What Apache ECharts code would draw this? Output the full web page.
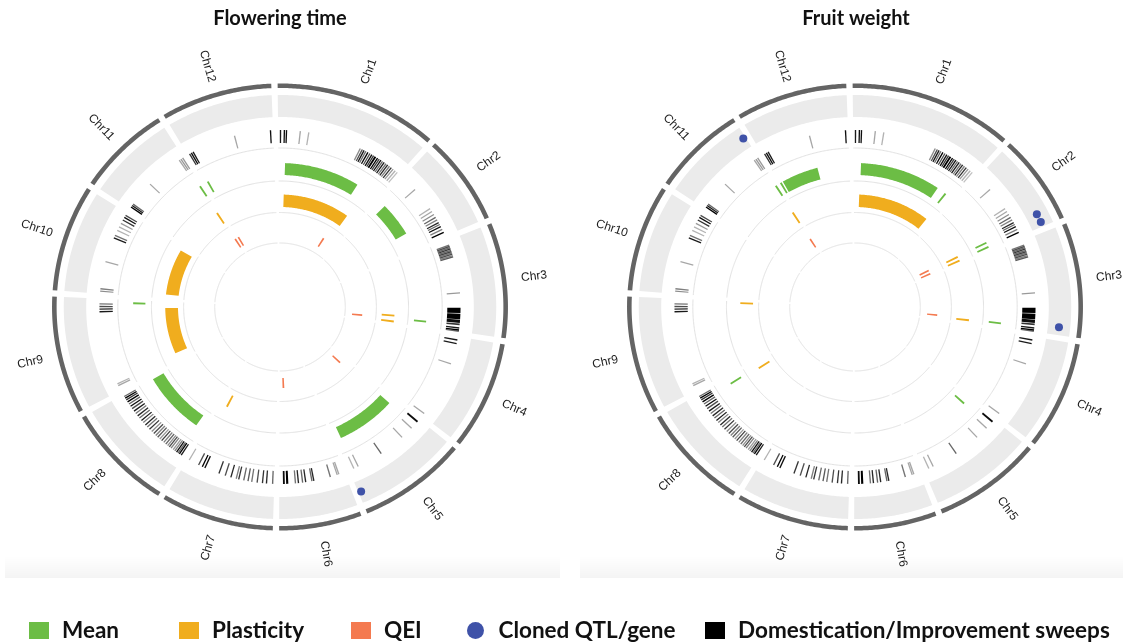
<!DOCTYPE html>
<html>
<head>
<meta charset="utf-8">
<script src="https://cdn.jsdelivr.net/npm/echarts@6/dist/echarts.min.js"></script>
<style>
  html, body { margin: 0; padding: 0; background: #ffffff; }
  #chart { width: 1123px; height: 642px; }
</style>
</head>
<body>
<div id="chart"></div>
<script>
// ---- Genome ----
const CHROMOSOMES = ['Chr1', 'Chr2', 'Chr3', 'Chr4', 'Chr5', 'Chr6', 'Chr7', 'Chr8', 'Chr9', 'Chr10', 'Chr11', 'Chr12'];
const CHR_LENGTH_MB = [98.54, 55.34, 70.79, 66.47, 65.88, 49.75, 68.05, 65.87, 72.48, 65.53, 56.30, 67.15];

const PANEL_TITLES = ['Flowering time', 'Fruit weight'];
const LEGEND_NAMES = ['Mean', 'Plasticity', 'QEI', 'Cloned QTL/gene', 'Domestication/Improvement sweeps'];

// ---- Flowering time: [chromosome, start Mb, end Mb] ----
const ftMean = [[1, 6.1, 76.3], [2, 6.2, 38.7], [3, 65.2, 65.9], [5, 5.6, 61.2], [8, 5.6, 64.9], [9, 69.4, 69.9], [11, 54.2, 55.2], [12, 2.6, 3.4]];
const ftPlasticity = [[1, 5.8, 85.7], [3, 61.8, 62.5], [3, 68.4, 70.0], [7, 60.2, 61.0], [9, 8.9, 64.9], [10, 4.9, 60.9], [11, 53.6, 54.4]];
const ftQEI = [[1, 76.0, 77.0], [3, 65.2, 65.9], [5, 8.8, 9.6], [6, 43.2, 44.0], [11, 54.8, 55.4], [12, 0.7, 1.3]];
const ftCloned = [[5, 64.0]];

// ---- Fruit weight ----
const fwMean = [[1, 7.0, 82.1], [1, 90.5, 91.3], [2, 48.2, 48.9], [2, 52.6, 53.3], [3, 66.5, 67.8], [5, 5.6, 6.4], [8, 59.6, 60.4], [11, 55.3, 55.9], [12, 0.5, 1.2], [12, 3.0, 37.4]];
const fwPlasticity = [[1, 6.4, 92.0], [2, 48.3, 49.1], [2, 53.2, 54.0], [3, 67.0, 68.6], [8, 57.5, 58.7], [9, 70.4, 71.0], [11, 54.4, 55.6]];
const fwQEI = [[2, 47.4, 48.2], [2, 53.4, 54.2], [3, 65.0, 65.8], [11, 54.6, 55.3]];
const fwCloned = [[2, 46.2], [2, 52.1], [3, 65.5], [11, 54.7]];

// ---- Domestication / improvement sweeps: [chromosome, start Mb, end Mb, intensity] ----
const sweeps = [
  [1, 1.5, 2.1, .9], [1, 4.2, 5.2, .95], [1, 5.8, 6.8, .95], [1, 16.4, 16.9, .35], [1, 22.8, 23.3, .3],
  [1, 63.3, 63.8, .45], [1, 65, 65.5, .7], [1, 66.4, 67.1, .9], [1, 68, 68.5, .6], [1, 69.6, 70.4, 1],
  [1, 71.5, 72, .7], [1, 73, 73.8, .95], [1, 74.6, 75.2, .8], [1, 75.8, 77.2, 1], [1, 78, 78.8, 1],
  [1, 79.6, 80.1, .75], [1, 81, 81.8, .95], [1, 82.6, 83.1, .6], [1, 84, 84.8, .9], [1, 85.8, 86.3, .55],
  [1, 87.2, 88, .85], [1, 89, 89.5, .5], [1, 90.6, 91.4, .8], [1, 92.5, 93, .4], [1, 94.5, 95, .3], [1, 96.5, 97, .25],
  [2, 12.8, 13.3, .35], [2, 31.2, 31.7, .3], [2, 33.8, 34.3, .35], [2, 36.5, 37, .45], [2, 39, 39.6, .6],
  [2, 41.3, 41.8, .5], [2, 43.5, 44.3, .85], [2, 45.3, 45.8, .6], [2, 46.8, 47.8, .95], [2, 49.5, 50, .5], [2, 51.8, 52.8, 1],
  [3, 3.4, 3.9, .55], [3, 4.5, 5, .7], [3, 5.5, 6, .6], [3, 6.5, 7.1, .8], [3, 7.6, 8.1, .6], [3, 8.6, 9.2, .75],
  [3, 9.7, 10.2, .55], [3, 10.7, 11.3, .7], [3, 11.8, 12.3, .5], [3, 12.8, 13.4, .65], [3, 40.8, 41.3, .4],
  [3, 52.4, 56.5, 1], [3, 56.9, 61.2, 1], [3, 61.6, 64, .95], [3, 64.5, 65.8, .8], [3, 67.6, 68.2, .9],
  [3, 69, 69.8, 1], [3, 70.2, 70.6, .6],
  [4, 2.2, 3, .9], [4, 5, 5.8, .9], [4, 21.2, 21.7, .35], [4, 64.1, 64.6, .35],
  [5, 1.4, 2.8, .95], [5, 8.5, 9, .35], [5, 18.5, 19, .35], [5, 38.3, 38.9, .6], [5, 58.2, 58.7, .35], [5, 61.8, 62.3, .3],
  [6, 4.2, 4.7, .35], [6, 5.5, 6, .35], [6, 10.8, 11.4, .55], [6, 23.4, 24.2, .85], [6, 25, 25.5, .6],
  [6, 29.6, 30.3, .85], [6, 32, 32.5, .6], [6, 35, 35.8, .85], [6, 37.4, 37.9, .55], [6, 43, 44.6, 1], [6, 45.6, 47, .95],
  [7, 1, 1.5, .6], [7, 5.5, 6.2, .85], [7, 8.5, 9.2, .8], [7, 12.5, 13.2, .7], [7, 16.6, 17.3, .55],
  [7, 19.5, 20, .65], [7, 22.7, 23.3, .6], [7, 26.5, 27.2, .8], [7, 28.5, 29, .5], [7, 32.5, 33.3, .85],
  [7, 37, 37.6, .7], [7, 41.9, 42.6, .8], [7, 53.2, 54, .95], [7, 55.3, 56.1, 1], [7, 58.5, 59.1, .7], [7, 66.5, 67, .3],
  [8, 1.5, 2.5, .9], [8, 3.2, 4, 1], [8, 4.6, 5.1, .6], [8, 5.8, 6.6, .95], [8, 7.5, 8, .5], [8, 9, 9.5, .4],
  [8, 11, 11.5, .5], [8, 12.6, 13.2, .7], [8, 14.2, 14.7, .45], [8, 16, 16.6, .6], [8, 18, 18.5, .5],
  [8, 20, 20.6, .75], [8, 22, 22.4, .4], [8, 24, 24.6, .65], [8, 26, 26.5, .5], [8, 28, 28.6, .7],
  [8, 30.2, 30.7, .45], [8, 32.5, 33.2, .8], [8, 35, 35.5, .55], [8, 37, 37.8, .85], [8, 39.5, 40, .5],
  [8, 41.5, 42.3, .9], [8, 44, 44.5, .6], [8, 46, 46.8, .85], [8, 48.5, 49, .55], [8, 50.5, 51.3, .9],
  [8, 53, 53.6, .7], [8, 55, 55.8, .95], [8, 57.2, 57.8, .6], [8, 59, 60, 1], [8, 61, 61.6, .8],
  [8, 62.3, 63.3, 1], [8, 64, 64.5, .6],
  [9, 3.8, 4.3, .35], [9, 5.2, 5.7, .3], [9, 62.2, 62.8, .9], [9, 64.2, 64.8, .85], [9, 66.2, 66.8, .7], [9, 68.2, 68.7, .55],
  [10, 1.7, 2.3, .45], [10, 3.5, 4.1, .5], [10, 24.5, 25, .35], [10, 43.6, 44.4, .9], [10, 45.8, 46.4, .55],
  [10, 50, 50.5, .3], [10, 53, 53.5, .3], [10, 56, 56.5, .4], [10, 58.8, 59.5, .8], [10, 61, 61.8, .95], [10, 63, 63.5, .7],
  [11, 1, 2, 1], [11, 2.6, 3.2, .9], [11, 4, 4.4, .6], [11, 23.8, 24.3, .35], [11, 52.3, 52.8, .35],
  [11, 53.8, 54.3, .4], [11, 55.3, 55.8, .4],
  [12, 1.3, 1.9, .8], [12, 2.7, 3.5, .95], [12, 4.3, 4.9, .9], [12, 37.7, 38.2, .35], [12, 64.8, 65.6, .95]
];

const PANELS = [
  { mean: ftMean, plasticity: ftPlasticity, qei: ftQEI, cloned: ftCloned },
  { mean: fwMean, plasticity: fwPlasticity, qei: fwQEI, cloned: fwCloned }
];

// ---- Circular layout ----
const COLORS = { mean: '#6cbd45', plasticity: '#f0ad1e', qei: '#f47a50', cloned: '#3f52a8', sweep: '#000000',
                 band: '#ebebeb', outline: '#646464', ring: '#e2e2e2', label: '#1c1c1c' };
const START_DEG = -0.6;
const GAP_DEG = 1.6;
const TRACK_R = { outline: [219, 223.5], band: [190, 212], sweeps: [164, 177], mean: [132, 144],
                  plasticity: [100, 112.5], qei: [71, 81], cloned: 201, label: 251 };
const RING_R = [64, 94.5, 126, 159];
const ASPECT = 1.02;  // horizontal stretch of the wheels
const HALF = 240;

const totalMb = CHR_LENGTH_MB.reduce((a, b) => a + b, 0);
const DEG_PER_MB = (360 - GAP_DEG * CHROMOSOMES.length) / totalMb;
const CHR_START_DEG = [];
(function () {
  let a = START_DEG;
  CHR_LENGTH_MB.forEach(len => { CHR_START_DEG.push(a); a += len * DEG_PER_MB + GAP_DEG; });
})();
const toDeg = (chr, mb) => CHR_START_DEG[chr - 1] + mb * DEG_PER_MB;

function point(api, r, deg) {
  const a = deg * Math.PI / 180;
  return api.coord([r * Math.sin(a), r * Math.cos(a)]);
}
function arcLine(api, r, d0, d1) {
  const n = Math.max(2, Math.ceil((d1 - d0) / 0.5) + 1);
  const pts = [];
  for (let i = 0; i < n; i++) pts.push(point(api, r, d0 + (d1 - d0) * i / (n - 1)));
  return pts;
}
function arcBand(api, r0, r1, d0, d1) {
  return arcLine(api, r1, d0, d1).concat(arcLine(api, r0, d0, d1).reverse());
}

// ideogram: outline, grey band, track rings, chromosome names
function renderIdeogram(params, api) {
  const chr = api.value(0);
  const d0 = toDeg(chr, api.value(1));
  const d1 = toDeg(chr, api.value(2));
  const mid = (d0 + d1) / 2;
  const children = [
    { type: 'polygon', shape: { points: arcBand(api, TRACK_R.band[0], TRACK_R.band[1], d0, d1) },
      style: { fill: COLORS.band } },
    { type: 'polygon', shape: { points: arcBand(api, TRACK_R.outline[0], TRACK_R.outline[1], d0, d1) },
      style: { fill: COLORS.outline } }
  ];
  RING_R.forEach(r => children.push({
    type: 'polyline', shape: { points: arcLine(api, r, d0, d1) },
    style: { stroke: COLORS.ring, lineWidth: 1, fill: null }
  }));
  const p = point(api, TRACK_R.label, mid);
  const rot = (mid < 180 ? 90 - mid : 270 - mid) * Math.PI / 180;
  children.push({
    type: 'text', x: p[0], y: p[1], rotation: rot,
    style: { text: CHROMOSOMES[chr - 1], fill: COLORS.label, font: '12px "Liberation Sans", Arial, sans-serif',
             align: 'center', verticalAlign: 'middle', textAlign: 'center', textVerticalAlign: 'middle' }
  });
  return { type: 'group', children };
}

function arcMarkRenderer(r0, r1, minPx, useAlpha) {
  return function (params, api) {
    const chr = api.value(0);
    let d0 = toDeg(chr, api.value(1));
    let d1 = toDeg(chr, api.value(2));
    const minDeg = minPx / ((r0 + r1) / 2 * Math.PI / 180);
    if (d1 - d0 < minDeg) { const m = (d0 + d1) / 2; d0 = m - minDeg / 2; d1 = m + minDeg / 2; }
    const fill = useAlpha ? 'rgba(0,0,0,' + api.value(3) + ')' : api.visual('color');
    return { type: 'polygon', shape: { points: arcBand(api, r0, r1, d0, d1) }, style: { fill } };
  };
}

function renderCloned(params, api) {
  const p = point(api, TRACK_R.cloned, toDeg(api.value(0), api.value(1)));
  return { type: 'circle', shape: { cx: p[0], cy: p[1], r: 4 }, style: { fill: api.visual('color') } };
}

const series = [];
PANELS.forEach((panel, g) => {
  const base = { type: 'custom', xAxisIndex: g, yAxisIndex: g, animation: false };
  series.push(Object.assign({}, base, {
    name: 'ideogram', silent: true,
    data: CHROMOSOMES.map((c, i) => [i + 1, 0, CHR_LENGTH_MB[i]]),
    renderItem: renderIdeogram
  }));
  series.push(Object.assign({}, base, {
    name: LEGEND_NAMES[4], itemStyle: { color: COLORS.sweep }, data: sweeps,
    renderItem: arcMarkRenderer(TRACK_R.sweeps[0], TRACK_R.sweeps[1], 1.3, true)
  }));
  series.push(Object.assign({}, base, {
    name: LEGEND_NAMES[0], itemStyle: { color: COLORS.mean }, data: panel.mean,
    renderItem: arcMarkRenderer(TRACK_R.mean[0], TRACK_R.mean[1], 1.8, false)
  }));
  series.push(Object.assign({}, base, {
    name: LEGEND_NAMES[1], itemStyle: { color: COLORS.plasticity }, data: panel.plasticity,
    renderItem: arcMarkRenderer(TRACK_R.plasticity[0], TRACK_R.plasticity[1], 1.8, false)
  }));
  series.push(Object.assign({}, base, {
    name: LEGEND_NAMES[2], itemStyle: { color: COLORS.qei }, data: panel.qei,
    renderItem: arcMarkRenderer(TRACK_R.qei[0], TRACK_R.qei[1], 1.6, false)
  }));
  series.push(Object.assign({}, base, {
    name: LEGEND_NAMES[3], itemStyle: { color: COLORS.cloned }, data: panel.cloned,
    renderItem: renderCloned
  }));
});

const GRID_LEFT = [40, 615];
const LEGEND_LEFT = [24, 174, 346, 462, 700];
const LEGEND_ICONS = ['rect', 'rect', 'rect', 'circle', 'rect'];

const option = {
  backgroundColor: '#ffffff',
  animation: false,
  grid: GRID_LEFT.map(l => ({ left: l, top: 67, width: HALF * 2, height: HALF * 2 })),
  xAxis: GRID_LEFT.map((l, i) => ({ gridIndex: i, type: 'value', min: -HALF / ASPECT, max: HALF / ASPECT, show: false })),
  yAxis: GRID_LEFT.map((l, i) => ({ gridIndex: i, type: 'value', min: -HALF, max: HALF, show: false })),
  legend: LEGEND_NAMES.map((name, i) => ({
    data: [{ name, icon: LEGEND_ICONS[i] }],
    left: LEGEND_LEFT[i], top: 614, itemWidth: 20, itemHeight: 17, selectedMode: false,
    textStyle: { fontFamily: 'Lato', fontWeight: 'bold', fontSize: 22.5, color: '#111111', padding: [0, 0, 0, 8] }
  })),
  graphic: [
    { type: 'rect', left: 5, top: 556, shape: { width: 555, height: 22 }, silent: true,
      style: { fill: new echarts.graphic.LinearGradient(0, 0, 0, 1, [{ offset: 0, color: 'rgba(0,0,0,0)' }, { offset: 1, color: 'rgba(0,0,0,0.045)' }]) } },
    { type: 'rect', left: 580, top: 556, shape: { width: 543, height: 22 }, silent: true,
      style: { fill: new echarts.graphic.LinearGradient(0, 0, 0, 1, [{ offset: 0, color: 'rgba(0,0,0,0)' }, { offset: 1, color: 'rgba(0,0,0,0.045)' }]) } },
    { type: 'text', x: 280, y: 19, style: { text: PANEL_TITLES[0], font: 'bold 20px Lato, sans-serif', fill: '#111111',
      align: 'center', verticalAlign: 'middle', textAlign: 'center', textVerticalAlign: 'middle' } },
    { type: 'text', x: 856, y: 19, style: { text: PANEL_TITLES[1], font: 'bold 20px Lato, sans-serif', fill: '#111111',
      align: 'center', verticalAlign: 'middle', textAlign: 'center', textVerticalAlign: 'middle' } }
  ],
  series
};

const chart = echarts.init(document.getElementById('chart'), null, { renderer: 'canvas' });
chart.setOption(option);
</script>
</body>
</html>
